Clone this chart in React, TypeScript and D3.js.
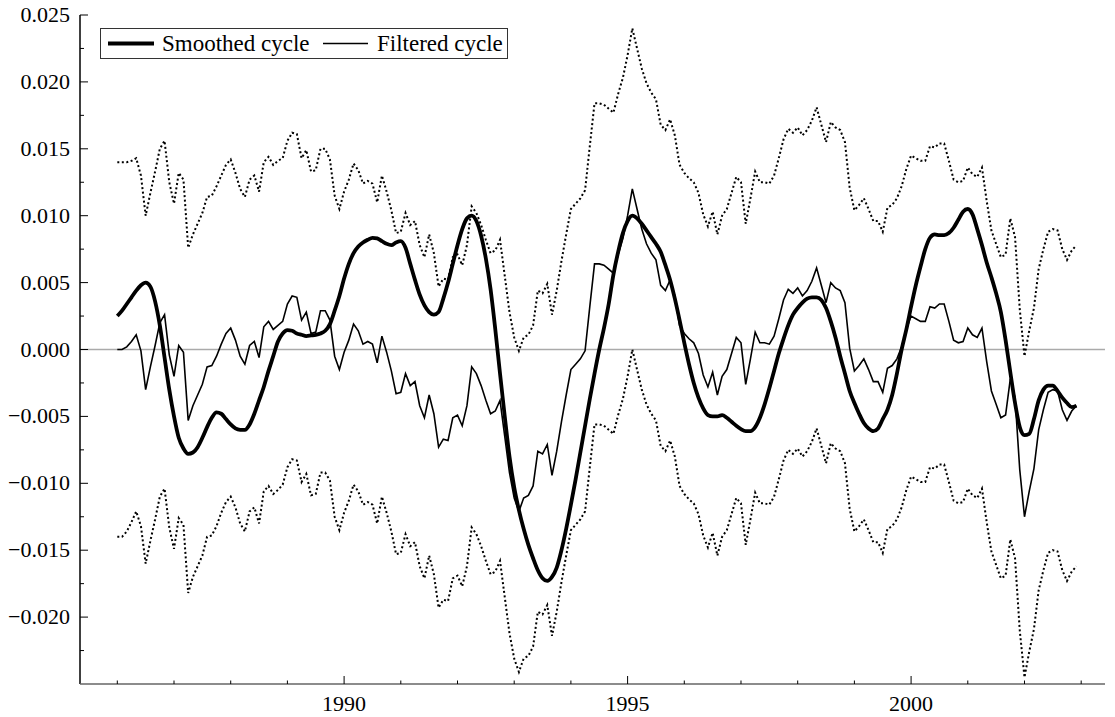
import React from 'react';
import * as d3 from 'd3';

// Monthly observations, January 1986 to December 2002.
// Values are in thousandths (0.001); one line per year.
const START_YEAR = 1986;

const FILTERED = [
  0.0, 0.0, 0.2, 0.6, 1.1, -0.1, -3.0, -1.3, 0.3, 2.0, 2.6, -0.4,
  -2.0, 0.3, -0.2, -5.3, -4.2, -3.4, -2.6, -1.3, -1.2, -0.5, 0.4, 1.2,
  1.6, 0.7, -0.5, -1.1, 0.3, 0.6, -0.6, 1.7, 2.1, 1.5, 1.8, 2.1,
  3.4, 4.0, 3.9, 2.2, 2.8, 1.2, 1.3, 2.9, 2.9, 2.2, -0.5, -1.5,
  -0.2, 0.7, 1.9, 1.4, 0.4, 0.6, 0.4, -1.0, 1.0, -0.2, -1.6, -3.3,
  -3.2, -1.8, -2.7, -2.4, -4.2, -5.1, -3.4, -4.8, -7.3, -6.7, -6.8, -5.1,
  -4.9, -5.7, -4.2, -1.3, -1.8, -2.7, -3.8, -4.8, -4.6, -3.8, -6.5, -9.2,
  -11.1, -12.1, -11.1, -10.9, -10.2, -7.6, -7.8, -7.1, -9.4, -7.6, -5.4, -3.4,
  -1.5, -1.1, -0.7, -0.1, 3.2, 6.4, 6.4, 6.3, 6.0, 5.7, 7.1, 8.3,
  10.0, 12.0, 10.5, 9.0, 7.9, 7.2, 6.7, 4.8, 4.4, 5.2, 4.0, 1.8,
  1.2, 0.8, 0.5, -0.3, -1.9, -2.8, -1.7, -3.4, -2.0, -1.5, -0.3, 0.9,
  0.5, -2.6, -0.7, 1.3, 0.5, 0.5, 0.4, 1.0, 2.3, 3.7, 4.5, 4.2,
  4.6, 4.0, 4.4, 5.1, 6.1, 4.8, 3.5, 5.0, 4.6, 4.4, 3.5, 0.1,
  -1.6, -1.2, -0.7, -1.5, -2.4, -2.4, -3.2, -1.4, -1.2, -0.7, 0.2, 1.5,
  2.5, 2.3, 2.1, 2.1, 3.2, 3.1, 3.4, 3.4, 2.1, 0.7, 0.5, 0.6,
  1.6, 1.1, 0.9, 1.6, -0.9, -3.1, -4.1, -5.1, -4.9, -2.2, -3.6, -9.0,
  -12.5, -10.6, -8.9, -6.0, -4.5, -3.2, -3.0, -3.1, -4.5, -5.3, -4.6, -4.2,
];

const SMOOTHED = [
  2.5, 2.9, 3.4, 3.9, 4.4, 4.8, 5.0, 4.7, 3.6, 1.8, -0.6, -3.0,
  -5.0, -6.6, -7.4, -7.8, -7.7, -7.3, -6.6, -5.8, -5.1, -4.7, -4.8, -5.2,
  -5.6, -5.9, -6.0, -6.0, -5.6, -4.8, -3.8, -2.8, -1.6, -0.5, 0.6, 1.2,
  1.45, 1.4, 1.2, 1.1, 1.0, 1.05, 1.1, 1.2, 1.4, 1.9, 2.9, 4.0,
  5.3, 6.4, 7.2, 7.7, 8.0, 8.2, 8.35, 8.3, 8.1, 7.9, 7.8, 8.0,
  8.1, 7.6, 6.4, 5.2, 4.1, 3.3, 2.8, 2.6, 2.8, 3.8, 5.0, 6.4,
  7.8, 9.0, 9.8, 10.0, 9.6, 8.5, 6.8, 4.5, 1.5, -1.8, -5.0, -8.0,
  -10.3, -12.0, -13.4, -14.6, -15.6, -16.5, -17.1, -17.3, -17.0, -16.3, -15.0, -13.4,
  -11.6, -9.7, -7.7, -5.7, -3.7, -1.8, 0.0, 1.6, 3.4, 5.6, 7.3, 8.7,
  9.6, 10.0, 9.8, 9.4, 8.9, 8.4, 7.9, 7.3, 6.3, 5.2, 3.8, 2.2,
  0.5, -1.1, -2.5, -3.6, -4.4, -4.9, -5.0, -5.0, -4.9, -5.1, -5.4, -5.7,
  -5.95, -6.1, -6.1, -5.8, -5.1, -4.1, -2.9, -1.6, -0.3, 0.8, 1.8, 2.6,
  3.1, 3.5, 3.8, 3.9, 3.9, 3.7, 3.1, 2.1, 0.9, -0.5, -1.8, -3.1,
  -4.0, -4.8, -5.5, -5.9, -6.1, -5.9, -5.2, -4.5, -3.4, -1.8, 0.0, 1.5,
  3.2, 4.8, 6.2, 7.5, 8.35, 8.6, 8.55, 8.55, 8.7, 9.1, 9.7, 10.3,
  10.5, 10.1, 9.0, 7.8, 6.5, 5.4, 4.2, 2.8, 0.7, -1.7, -4.0, -5.8,
  -6.4, -6.3, -5.2, -3.8, -3.0, -2.7, -2.7, -3.1, -3.6, -4.0, -4.3, -4.2,
];

const UPPER = [
  14.0, 14.0, 14.0, 14.1, 14.3, 13.0, 10.0, 11.7, 13.3, 15.0, 15.6, 12.5,
  10.9, 13.2, 12.7, 7.6, 8.6, 9.4, 10.2, 11.4, 11.5, 12.2, 13.0, 13.8,
  14.2, 13.2, 12.0, 11.4, 12.7, 13.0, 11.8, 14.0, 14.4, 13.8, 14.1, 14.3,
  15.6, 16.2, 16.1, 14.3, 14.9, 13.3, 13.4, 15.0, 15.0, 14.2, 11.5, 10.5,
  11.8, 12.7, 13.9, 13.4, 12.4, 12.6, 12.4, 11.0, 13.0, 11.8, 10.4, 8.7,
  8.8, 10.2, 9.3, 9.6, 7.8, 6.9, 8.6, 7.2, 4.7, 5.3, 5.2, 6.9,
  7.1, 6.3, 7.8, 10.7, 10.2, 9.3, 8.2, 7.2, 7.4, 8.2, 5.5, 2.8,
  0.9, -0.1, 0.9, 1.1, 1.8, 4.4, 4.2, 4.9, 2.6, 4.4, 6.6, 8.6,
  10.5, 10.9, 11.3, 11.9, 15.2, 18.4, 18.4, 18.3, 18.0, 17.7, 19.1, 20.3,
  22.0, 24.0, 22.5, 21.0, 19.9, 19.2, 18.7, 16.8, 16.4, 17.2, 16.0, 13.8,
  13.2, 12.8, 12.5, 11.7, 10.1, 9.2, 10.3, 8.6, 10.0, 10.5, 11.7, 12.9,
  12.5, 9.4, 11.3, 13.3, 12.5, 12.5, 12.4, 13.0, 14.3, 15.7, 16.5, 16.2,
  16.6, 16.0, 16.4, 17.1, 18.1, 16.8, 15.5, 17.0, 16.6, 16.4, 15.5, 12.1,
  10.4, 10.8, 11.3, 10.5, 9.6, 9.6, 8.8, 10.6, 10.8, 11.3, 12.2, 13.5,
  14.5, 14.3, 14.1, 14.1, 15.2, 15.1, 15.4, 15.4, 14.1, 12.7, 12.5, 12.6,
  13.6, 13.1, 12.9, 13.6, 11.1, 8.9, 7.9, 6.9, 7.1, 9.8, 8.4, 3.0,
  -0.5, 1.4, 3.1, 6.0, 7.5, 8.8, 9.0, 8.9, 7.5, 6.7, 7.4, 7.8,
];

const LOWER = [
  -14.0, -14.0, -13.6, -12.9, -12.1, -13.2, -16.0, -14.3, -12.7, -11.0, -10.4, -13.3,
  -14.9, -12.6, -13.1, -18.2, -17.0, -16.2, -15.4, -14.0, -13.9, -13.2, -12.2, -11.4,
  -11.0, -11.8, -13.0, -13.6, -12.1, -11.8, -13.0, -10.6, -10.2, -10.8, -10.5, -10.1,
  -8.8, -8.2, -8.3, -9.9, -9.3, -10.9, -10.8, -9.2, -9.2, -9.8, -12.5, -13.5,
  -12.2, -11.3, -10.1, -10.6, -11.6, -11.4, -11.6, -13.0, -11.0, -12.2, -13.6, -15.3,
  -15.2, -13.8, -14.7, -14.4, -16.2, -17.1, -15.4, -16.8, -19.3, -18.7, -18.8, -17.1,
  -16.9, -17.7, -16.2, -13.3, -13.8, -14.7, -15.8, -16.8, -16.6, -15.8, -18.5, -21.2,
  -23.1, -24.1, -23.1, -22.9, -22.2, -19.6, -19.8, -19.1, -21.4, -19.6, -17.4, -15.4,
  -13.5, -13.1, -12.7, -12.1, -8.8, -5.6, -5.6, -5.7, -6.0, -6.3, -4.9, -3.7,
  -2.0, 0.0, -1.5, -3.0, -4.1, -4.8, -5.3, -7.2, -7.6, -6.8, -8.0, -10.2,
  -10.8, -11.2, -11.5, -12.3, -13.9, -14.8, -13.7, -15.4, -14.0, -13.5, -12.3, -11.1,
  -11.5, -14.6, -12.7, -10.7, -11.5, -11.5, -11.6, -11.0, -9.7, -8.3, -7.5, -7.8,
  -7.4, -8.0, -7.6, -6.9, -5.9, -7.2, -8.5, -7.0, -7.4, -7.6, -8.5, -11.9,
  -13.6, -13.2, -12.7, -13.5, -14.4, -14.4, -15.2, -13.4, -13.2, -12.7, -11.8, -10.5,
  -9.5, -9.7, -9.9, -9.9, -8.8, -8.9, -8.6, -8.6, -9.9, -11.3, -11.5, -11.4,
  -10.4, -10.9, -11.1, -10.4, -12.9, -15.1, -16.1, -17.1, -16.9, -14.2, -15.6, -21.0,
  -24.5, -22.6, -20.9, -18.0, -16.5, -15.2, -15.0, -15.1, -16.5, -17.3, -16.6, -16.2,
];

const Y_LABELS = [0.025, 0.02, 0.015, 0.01, 0.005, 0, -0.005, -0.01, -0.015, -0.02];
const Y_MINOR = [0.0225, 0.0175, 0.0125, 0.0075, 0.0025, -0.0025, -0.0075, -0.0125, -0.0175, -0.0225];
const X_LABELS = [1990, 1995, 2000];
const X_MINOR = d3.range(1986, 2004);

const FONT = 'Liberation Serif';

type Pt = { t: number; v: number };
const toSeries = (vals: number[]): Pt[] =>
  vals.map((v, i) => ({ t: START_YEAR + i / 12, v: v / 1000 }));

export default function App() {
  const W = 1115;
  const H = 717;
  const left = 80;
  const right = 1105;
  const top = 15;
  const bottom = 684;

  const x = d3.scaleLinear().domain([1985.342, 2003.42]).range([left, right]);
  const y = d3.scaleLinear().domain([-0.025, 0.025]).range([bottom, top]);

  const line = d3.line<Pt>().x(d => x(d.t)).y(d => y(d.v));
  const smoothLine = d3.line<Pt>().x(d => x(d.t)).y(d => y(d.v)).curve(d3.curveMonotoneX);

  const fmt = (v: number) => (v < 0 ? '\u2212' : '') + Math.abs(v).toFixed(3);

  return (
    <div style={{ position: 'absolute', left: 0, top: 0 }}>
      <svg width={W} height={H} fontFamily={FONT} fontSize={22}
        style={{ display: 'block', background: '#fff' }}>
        {/* zero reference line */}
        <line x1={left} x2={right} y1={y(0)} y2={y(0)} stroke="#aaa" strokeWidth={1.5} />

        {/* confidence bands */}
        {[UPPER, LOWER].map((s, k) => (
          <path key={k} d={line(toSeries(s)) || ''} fill="none" stroke="#000"
            strokeWidth={2} strokeDasharray="2 2.5" />
        ))}

        <path d={line(toSeries(FILTERED)) || ''} fill="none" stroke="#000" strokeWidth={1.6} />
        <path d={smoothLine(toSeries(SMOOTHED)) || ''} fill="none" stroke="#000" strokeWidth={3.8} />

        {/* y axis */}
        <line x1={left} x2={left} y1={top} y2={bottom} stroke="#000" strokeWidth={1.5} />
        {Y_LABELS.map(v => (
          <g key={v}>
            <line x1={left} x2={left + 8} y1={y(v)} y2={y(v)} stroke="#000" strokeWidth={1} />
            <text x={70} y={y(v) + 7} textAnchor="end" fontFamily={FONT} fontSize={22} fill="#000">
              {fmt(v)}
            </text>
          </g>
        ))}
        {Y_MINOR.map(v => (
          <line key={v} x1={left} x2={left + 4} y1={y(v)} y2={y(v)} stroke="#000" strokeWidth={1} />
        ))}

        {/* x axis */}
        <line x1={left} x2={right} y1={bottom} y2={bottom} stroke="#666" strokeWidth={1.5} />
        {X_MINOR.map(t => (
          <line key={t} x1={x(t)} x2={x(t)} y1={bottom} y2={bottom - (X_LABELS.includes(t) ? 8 : 3.5)}
            stroke="#000" strokeWidth={1} />
        ))}
        {X_LABELS.map(t => (
          <text key={t} x={x(t)} y={711} textAnchor="middle" fontFamily={FONT} fontSize={22} fill="#000">
            {t}
          </text>
        ))}

        {/* legend */}
        <g>
          <rect x={100.5} y={28.5} width={407} height={30} fill="#fff" stroke="#333" strokeWidth={1} />
          <line x1={108} x2={154} y1={43.5} y2={43.5} stroke="#000" strokeWidth={4} />
          <text x={162} y={51} fontFamily={FONT} fontSize={23} fill="#000">Smoothed cycle</text>
          <line x1={323} x2={368} y1={43.5} y2={43.5} stroke="#000" strokeWidth={1.6} />
          <text x={377} y={51} fontFamily={FONT} fontSize={23} fill="#000">Filtered cycle</text>
        </g>
      </svg>
    </div>
  );
}
